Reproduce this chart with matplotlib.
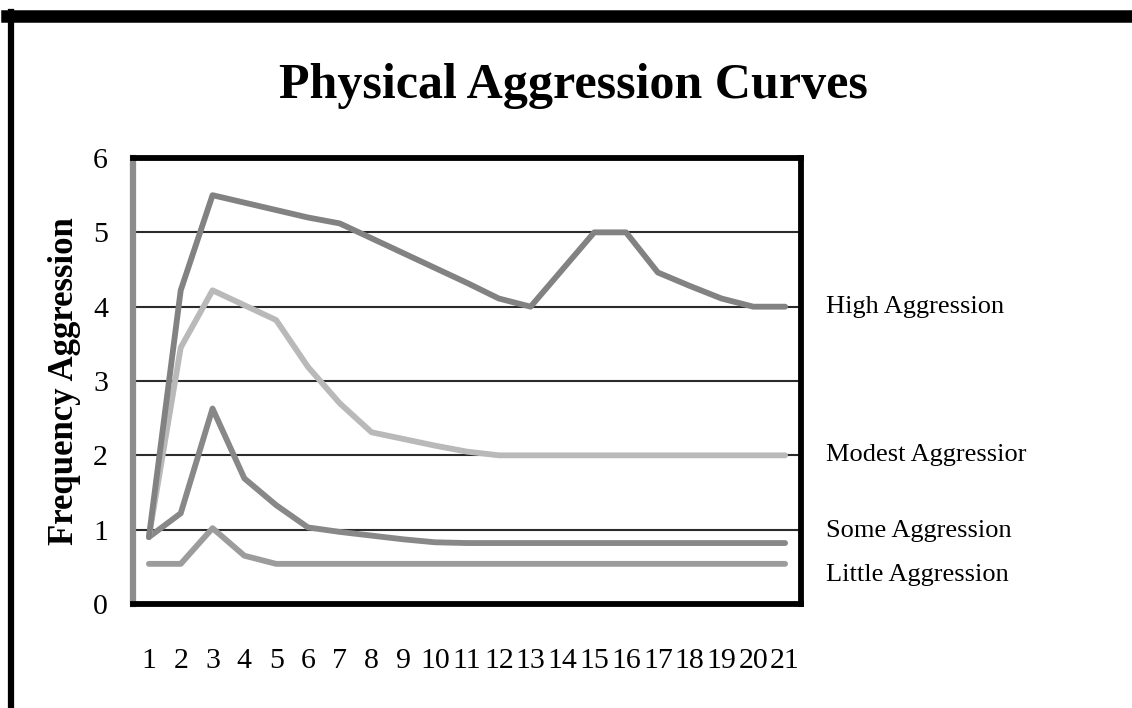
import matplotlib
matplotlib.use("Agg")
import matplotlib.pyplot as plt
from matplotlib.lines import Line2D

jours = list(range(1, 22))
high = [0.9, 4.22, 5.5, 5.4, 5.3, 5.2, 5.12, 4.92, 4.72, 4.52, 4.32, 4.11, 4.0,
        4.5, 5.0, 5.0, 4.46, 4.28, 4.11, 4.0, 4.0]
modest = [0.9, 3.45, 4.22, 4.02, 3.82, 3.19, 2.7, 2.31, 2.22, 2.13, 2.05, 2.0, 2.0,
          2.0, 2.0, 2.0, 2.0, 2.0, 2.0, 2.0, 2.0]
some = [0.9, 1.22, 2.63, 1.69, 1.33, 1.03, 0.97, 0.92, 0.87, 0.83, 0.82, 0.82, 0.82,
        0.82, 0.82, 0.82, 0.82, 0.82, 0.82, 0.82, 0.82]
little = [0.54, 0.54, 1.02, 0.65, 0.54, 0.54, 0.54, 0.54, 0.54, 0.54, 0.54, 0.54, 0.54,
          0.54, 0.54, 0.54, 0.54, 0.54, 0.54, 0.54, 0.54]

noms = ["High Aggression", "Modest Aggressior", "Some Aggression", "Little Aggression"]
pos_noms = [4.0, 2.0, 0.98, 0.39]

serif = ["Liberation Serif", "DejaVu Serif"]

fig = plt.figure(figsize=(11.32, 7.08), dpi=100)
ax = fig.add_axes([0.1175, 0.1469, 0.5901, 0.6299])

ax.plot(jours, little, color="#9c9c9c", lw=4.2, solid_capstyle="round", zorder=3)
ax.plot(jours, some, color="#888888", lw=4.2, solid_capstyle="round", zorder=3)
ax.plot(jours, modest, color="#b9b9b9", lw=4.2, solid_capstyle="round", zorder=3)
ax.plot(jours, high, color="#828282", lw=4.2, solid_capstyle="round", zorder=4)

ax.set_xlim(0.5, 21.5)
ax.set_ylim(0, 6)
ax.set_xticks(jours)
ax.set_yticks(range(0, 7))
ax.grid(axis="y", color="#2b2b2b", lw=1.5)
ax.tick_params(length=0)
ax.tick_params(axis="x", pad=32)
ax.tick_params(axis="y", pad=18)
for lab in ax.get_xticklabels() + ax.get_yticklabels():
    lab.set_family(serif)
    lab.set_fontsize(21.5)

ax.spines["left"].set_color("#8c8c8c")
ax.spines["left"].set_linewidth(4.5)
for s in ["top", "right", "bottom"]:
    ax.spines[s].set_color("black")
    ax.spines[s].set_linewidth(4.2)

ax.set_ylabel("Frequency Aggression", family=serif, fontweight="bold",
              fontsize=25, labelpad=9)

for nom, y in zip(noms, pos_noms):
    ax.text(1.037, y, nom, transform=ax.get_yaxis_transform(), family=serif,
            fontsize=19, va="center", ha="left")

fig.text(0.507, 0.878, "Physical Aggression Curves", family=serif,
         fontweight="bold", fontsize=36, ha="center", va="center")

# cadre noir autour de l'image
fig.add_artist(Line2D([0.006, 1.0], [0.977, 0.977], color="black", lw=9,
                      transform=fig.transFigure))
fig.add_artist(Line2D([0.0097, 0.0097], [0.0, 0.983], color="black", lw=4.5,
                      transform=fig.transFigure))

fig.savefig("out.png", dpi=100)
